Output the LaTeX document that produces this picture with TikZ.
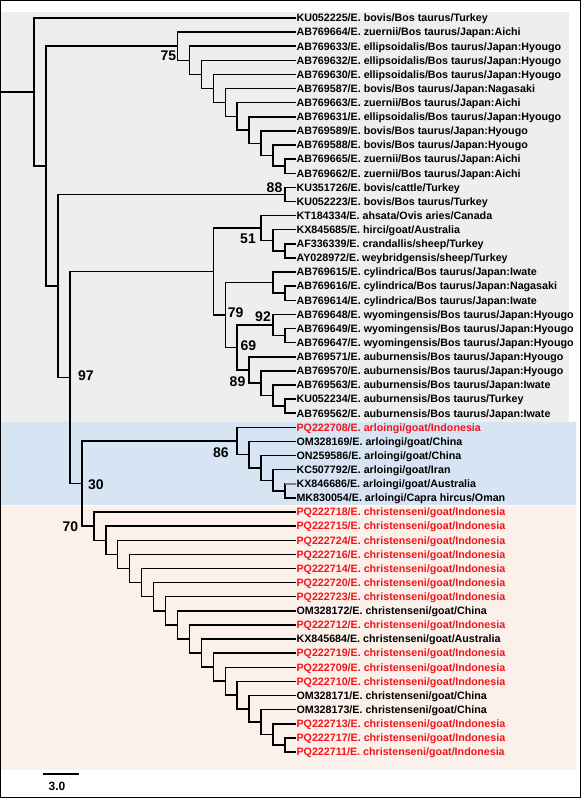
\documentclass[tikz,border=0pt]{standalone}
\usepackage{fontspec}
\setmainfont{Liberation Sans}
\usepackage{xcolor}
\usepackage{tikz}
\usetikzlibrary{positioning}

\definecolor{bovisgray}{RGB}{238,238,238}
\definecolor{arloblue}{RGB}{214,228,243}
\definecolor{chrispink}{RGB}{252,240,234}
\definecolor{isored}{RGB}{240,22,28}

\begin{document}
\begin{tikzpicture}
    [x=-11.95pt, y=-14.115pt, shift={(285pt,-3.885pt)},
     taxon/.style = {anchor=west, inner sep=0pt, text height=7.6pt, text depth=0pt,
                     font=\bfseries\fontsize{10.7}{12}\selectfont},
     ours/.style = {taxon, text=isored},
     branch/.style = {line width=1.5pt},
     boot/.style = {inner sep=0pt, text height=10pt, text depth=0pt,
                    font=\bfseries\fontsize{14}{16}\selectfont},
     scaletext/.style = {inner sep=0pt, text height=8.6pt, text depth=0pt,
                    font=\bfseries\fontsize{12}{14}\selectfont}]

    % boxes, frame and scale bar (pixel units)
    \begin{scope}[x=1pt, y=-1pt, shift={(-285pt,3.885pt)}]
        \useasboundingbox (0,0) rectangle (581,798);
        \fill[bovisgray] (1,12) rectangle (569,421.5);
        \fill[arloblue] (1,421.5) rectangle (576,504.5);
        \fill[chrispink] (1,505.5) rectangle (576,770);
        \draw[line width=1.3pt] (0.65,0.65) rectangle (580.35,797.35);
        \coordinate (barl) at (43.3,774.3);
        \coordinate (barr) at (79,774.3);
        \draw[line width=2pt] (barl) -- (barr);
        \node[scaletext] (bartxt) at (57,786) {3.0};
    \end{scope}

    % taxa
    \node[taxon] (l1) at (-0.95,1) {KU052225/E. bovis/Bos taurus/Turkey};
    \node[taxon] (l2) at (-0.95,2) {AB769664/E. zuernii/Bos taurus/Japan:Aichi};
    \node[taxon] (l3) at (-0.95,3) {AB769633/E. ellipsoidalis/Bos taurus/Japan:Hyougo};
    \node[taxon] (l4) at (-0.95,4) {AB769632/E. ellipsoidalis/Bos taurus/Japan:Hyougo};
    \node[taxon] (l5) at (-0.95,5) {AB769630/E. ellipsoidalis/Bos taurus/Japan:Hyougo};
    \node[taxon] (l6) at (-0.95,6) {AB769587/E. bovis/Bos taurus/Japan:Nagasaki};
    \node[taxon] (l7) at (-0.95,7) {AB769663/E. zuernii/Bos taurus/Japan:Aichi};
    \node[taxon] (l8) at (-0.95,8) {AB769631/E. ellipsoidalis/Bos taurus/Japan:Hyougo};
    \node[taxon] (l9) at (-0.95,9) {AB769589/E. bovis/Bos taurus/Japan:Hyougo};
    \node[taxon] (l10) at (-0.95,10) {AB769588/E. bovis/Bos taurus/Japan:Hyougo};
    \node[taxon] (l11) at (-0.95,11) {AB769665/E. zuernii/Bos taurus/Japan:Aichi};
    \node[taxon] (l12) at (-0.95,12) {AB769662/E. zuernii/Bos taurus/Japan:Aichi};
    \node[taxon] (l13) at (-0.95,13) {KU351726/E. bovis/cattle/Turkey};
    \node[taxon] (l14) at (-0.95,14) {KU052223/E. bovis/Bos taurus/Turkey};
    \node[taxon] (l15) at (-0.95,15) {KT184334/E. ahsata/Ovis aries/Canada};
    \node[taxon] (l16) at (-0.95,16) {KX845685/E. hirci/goat/Australia};
    \node[taxon] (l17) at (-0.95,17) {AF336339/E. crandallis/sheep/Turkey};
    \node[taxon] (l18) at (-0.95,18) {AY028972/E. weybridgensis/sheep/Turkey};
    \node[taxon] (l19) at (-0.95,19) {AB769615/E. cylindrica/Bos taurus/Japan:Iwate};
    \node[taxon] (l20) at (-0.95,20) {AB769616/E. cylindrica/Bos taurus/Japan:Nagasaki};
    \node[taxon] (l21) at (-0.95,21) {AB769614/E. cylindrica/Bos taurus/Japan:Iwate};
    \node[taxon] (l22) at (-0.95,22) {AB769648/E. wyomingensis/Bos taurus/Japan:Hyougo};
    \node[taxon] (l23) at (-0.95,23) {AB769649/E. wyomingensis/Bos taurus/Japan:Hyougo};
    \node[taxon] (l24) at (-0.95,24) {AB769647/E. wyomingensis/Bos taurus/Japan:Hyougo};
    \node[taxon] (l25) at (-0.95,25) {AB769571/E. auburnensis/Bos taurus/Japan:Hyougo};
    \node[taxon] (l26) at (-0.95,26) {AB769570/E. auburnensis/Bos taurus/Japan:Hyougo};
    \node[taxon] (l27) at (-0.95,27) {AB769563/E. auburnensis/Bos taurus/Japan:Iwate};
    \node[taxon] (l28) at (-0.95,28) {KU052234/E. auburnensis/Bos taurus/Turkey};
    \node[taxon] (l29) at (-0.95,29) {AB769562/E. auburnensis/Bos taurus/Japan:Iwate};
    \node[ours] (l30) at (-0.95,30) {PQ222708/E. arloingi/goat/Indonesia};
    \node[taxon] (l31) at (-0.95,31) {OM328169/E. arloingi/goat/China};
    \node[taxon] (l32) at (-0.95,32) {ON259586/E. arloingi/goat/China};
    \node[taxon] (l33) at (-0.95,33) {KC507792/E. arloingi/goat/Iran};
    \node[taxon] (l34) at (-0.95,34) {KX846686/E. arloingi/goat/Australia};
    \node[taxon] (l35) at (-0.95,35) {MK830054/E. arloingi/Capra hircus/Oman};
    \node[ours] (l36) at (-0.95,36) {PQ222718/E. christenseni/goat/Indonesia};
    \node[ours] (l37) at (-0.95,37) {PQ222715/E. christenseni/goat/Indonesia};
    \node[ours] (l38) at (-0.95,38) {PQ222724/E. christenseni/goat/Indonesia};
    \node[ours] (l39) at (-0.95,39) {PQ222716/E. christenseni/goat/Indonesia};
    \node[ours] (l40) at (-0.95,40) {PQ222714/E. christenseni/goat/Indonesia};
    \node[ours] (l41) at (-0.95,41) {PQ222720/E. christenseni/goat/Indonesia};
    \node[ours] (l42) at (-0.95,42) {PQ222723/E. christenseni/goat/Indonesia};
    \node[taxon] (l43) at (-0.95,43) {OM328172/E. christenseni/goat/China};
    \node[ours] (l44) at (-0.95,44) {PQ222712/E. christenseni/goat/Indonesia};
    \node[taxon] (l45) at (-0.95,45) {KX845684/E. christenseni/goat/Australia};
    \node[ours] (l46) at (-0.95,46) {PQ222719/E. christenseni/goat/Indonesia};
    \node[ours] (l47) at (-0.95,47) {PQ222709/E. christenseni/goat/Indonesia};
    \node[ours] (l48) at (-0.95,48) {PQ222710/E. christenseni/goat/Indonesia};
    \node[taxon] (l49) at (-0.95,49) {OM328171/E. christenseni/goat/China};
    \node[taxon] (l50) at (-0.95,50) {OM328173/E. christenseni/goat/China};
    \node[ours] (l51) at (-0.95,51) {PQ222713/E. christenseni/goat/Indonesia};
    \node[ours] (l52) at (-0.95,52) {PQ222717/E. christenseni/goat/Indonesia};
    \node[ours] (l53) at (-0.95,53) {PQ222711/E. christenseni/goat/Indonesia};

    % internal nodes (depth, row)
    \coordinate (n11) at (0,11.5);
    \coordinate (n10) at (1,10.75);
    \coordinate (n9) at (2,9.875);
    \coordinate (n8) at (3,8.94);
    \coordinate (n7) at (4,7.97);
    \coordinate (n6) at (5,6.98);
    \coordinate (n5) at (6,5.99);
    \coordinate (n4) at (7,5.0);
    \coordinate (n3) at (8,4.0);
    \coordinate (n2) at (9,3.0);
    \coordinate (h) at (0,13.5);
    \coordinate (s3) at (0,17.5);
    \coordinate (s2) at (1,16.75);
    \coordinate (s1) at (2,15.875);
    \coordinate (cy2) at (0,20.5);
    \coordinate (cy1) at (1,19.75);
    \coordinate (wy2) at (0,23.5);
    \coordinate (wy1) at (1,22.75);
    \coordinate (au4) at (0,28.5);
    \coordinate (au3) at (1,27.75);
    \coordinate (au2) at (2,26.875);
    \coordinate (au1) at (3,25.94);
    \coordinate (w) at (4,24.34);
    \coordinate (k) at (5,22.05);
    \coordinate (e) at (6,18.96);
    \coordinate (bl5) at (0,34.5);
    \coordinate (bl4) at (1,33.75);
    \coordinate (bl3) at (2,32.875);
    \coordinate (bl2) at (3,31.94);
    \coordinate (bl1) at (4,30.97);
    \coordinate (g17) at (0,52.5);
    \coordinate (g16) at (1,51.75);
    \coordinate (g15) at (2,50.875);
    \coordinate (g14) at (3,49.94);
    \coordinate (g13) at (4,48.97);
    \coordinate (g12) at (5,47.98);
    \coordinate (g11) at (6,46.99);
    \coordinate (g10) at (7,46.0);
    \coordinate (g9) at (8,45.0);
    \coordinate (g8) at (9,44.0);
    \coordinate (g7) at (10,43.0);
    \coordinate (g6) at (11,42.0);
    \coordinate (g5) at (12,41.0);
    \coordinate (g4) at (13,40.0);
    \coordinate (g3) at (14,39.0);
    \coordinate (g2) at (15,38.0);
    \coordinate (g1) at (16,37.0);
    \coordinate (f) at (17,33.99);
    \coordinate (d) at (18,26.47);
    \coordinate (c) at (19,19.99);
    \coordinate (b) at (20,11.49);
    \coordinate (a) at (21,6.25);
    \coordinate (root) at (23.74,6.25);

    % branches
    \draw[branch] (l11.west) -| (n11) |- (l12.west);
    \draw[branch] (l10.west) -| (n10) |- (n11);
    \draw[branch] (l9.west) -| (n9) |- (n10);
    \draw[branch] (l8.west) -| (n8) |- (n9);
    \draw[branch] (l7.west) -| (n7) |- (n8);
    \draw[branch] (l6.west) -| (n6) |- (n7);
    \draw[branch] (l5.west) -| (n5) |- (n6);
    \draw[branch] (l4.west) -| (n4) |- (n5);
    \draw[branch] (l3.west) -| (n3) |- (n4);
    \draw[branch] (l2.west) -| (n2) |- (n3);
    \draw[branch] (l13.west) -| (h) |- (l14.west);
    \draw[branch] (l17.west) -| (s3) |- (l18.west);
    \draw[branch] (l16.west) -| (s2) |- (s3);
    \draw[branch] (l15.west) -| (s1) |- (s2);
    \draw[branch] (l20.west) -| (cy2) |- (l21.west);
    \draw[branch] (l19.west) -| (cy1) |- (cy2);
    \draw[branch] (l23.west) -| (wy2) |- (l24.west);
    \draw[branch] (l22.west) -| (wy1) |- (wy2);
    \draw[branch] (l28.west) -| (au4) |- (l29.west);
    \draw[branch] (l27.west) -| (au3) |- (au4);
    \draw[branch] (l26.west) -| (au2) |- (au3);
    \draw[branch] (l25.west) -| (au1) |- (au2);
    \draw[branch] (wy1) -| (w) |- (au1);
    \draw[branch] (cy1) -| (k) |- (w);
    \draw[branch] (s1) -| (e) |- (k);
    \draw[branch] (l34.west) -| (bl5) |- (l35.west);
    \draw[branch, gray] (bl5 |- l34.west) -- (l34.west);
    \draw[branch] (l33.west) -| (bl4) |- (bl5);
    \draw[branch] (l32.west) -| (bl3) |- (bl4);
    \draw[branch] (l31.west) -| (bl2) |- (bl3);
    \draw[branch] (l30.west) -| (bl1) |- (bl2);
    \draw[branch] (l52.west) -| (g17) |- (l53.west);
    \draw[branch] (l51.west) -| (g16) |- (g17);
    \draw[branch] (l50.west) -| (g15) |- (g16);
    \draw[branch] (l49.west) -| (g14) |- (g15);
    \draw[branch] (l48.west) -| (g13) |- (g14);
    \draw[branch] (l47.west) -| (g12) |- (g13);
    \draw[branch] (l46.west) -| (g11) |- (g12);
    \draw[branch] (l45.west) -| (g10) |- (g11);
    \draw[branch] (l44.west) -| (g9) |- (g10);
    \draw[branch] (l43.west) -| (g8) |- (g9);
    \draw[branch] (l42.west) -| (g7) |- (g8);
    \draw[branch] (l41.west) -| (g6) |- (g7);
    \draw[branch] (l40.west) -| (g5) |- (g6);
    \draw[branch] (l39.west) -| (g4) |- (g5);
    \draw[branch] (l38.west) -| (g3) |- (g4);
    \draw[branch] (l37.west) -| (g2) |- (g3);
    \draw[branch] (l36.west) -| (g1) |- (g2);
    \draw[branch] (bl1) -| (f) |- (g1);
    \draw[branch] (e) -| (d) |- (f);
    \draw[branch] (h) -| (c) |- (d);
    \draw[branch] (n2) -| (b) |- (c);
    \draw[branch] (l1.west) -| (a) |- (b);
    \draw[branch] (root) -- (a);

    % bootstrap values (pixel units)
    \begin{scope}[x=1pt, y=-1pt, shift={(-285pt,3.885pt)}]
        \node[boot] (bs75) at (168.5,55) {75};
        \node[boot] (bs88) at (274.5,187) {88};
        \node[boot] (bs51) at (248,238.3) {51};
        \node[boot] (bs79) at (235.7,312.7) {79};
        \node[boot] (bs92) at (263,316.7) {92};
        \node[boot] (bs69) at (248.3,345) {69};
        \node[boot] (bs89) at (237.5,381) {89};
        \node[boot] (bs97) at (85.8,375) {97};
        \node[boot] (bs30) at (95.8,484.3) {30};
        \node[boot] (bs86) at (220.8,452.7) {86};
        \node[boot] (bs70) at (70.3,526.7) {70};
    \end{scope}
\end{tikzpicture}
\end{document}
